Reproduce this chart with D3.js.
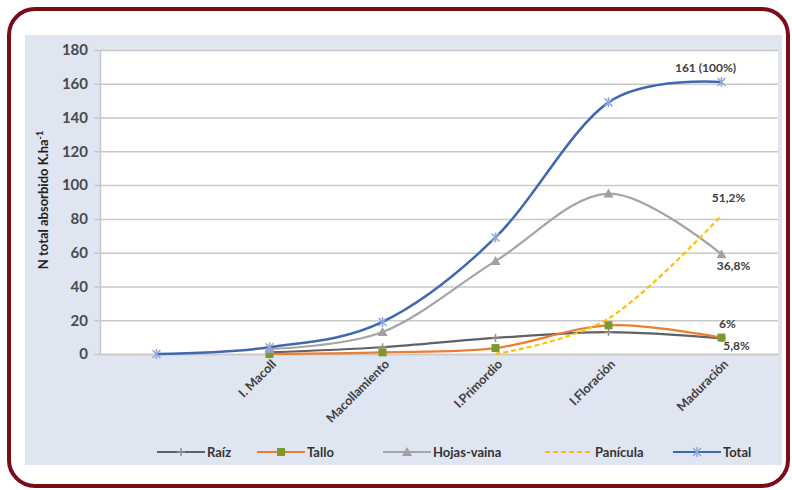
<!DOCTYPE html>
<html>
<head>
<meta charset="utf-8">
<script src="https://cdn.jsdelivr.net/npm/d3@7"></script>
<style>
  body { margin: 0; background: #fff; }
  text { font-family: Lato, "Open Sans", sans-serif; }
</style>
</head>
<body>
<div id="chart"></div>
<script>
// N absorbed by plant part across growth stages
const categories = ['', 'I. Macoll', 'Macollamiento', 'I.Primordio', 'I.Floración', 'Maduración'];
const raiz = [null, 1, 4, 9.5, 13, 9.3];
const tallo = [null, 0, 1, 3.5, 17, 9.7];
const hojas = [null, 3, 13, 55, 95, 59];
const panicula = [null, null, null, 0, 21, 82];
const total = [0, 4, 19, 69, 149, 161];
const yTicks = [0, 20, 40, 60, 80, 100, 120, 140, 160, 180];

const W = 792, H = 490;
const margin = {top: 50, right: 14, bottom: 136, left: 100};
const width = W - margin.left - margin.right;
const height = H - margin.top - margin.bottom;

const svg = d3.select('#chart').append('svg')
    .attr('width', W)
    .attr('height', H);

// Chart background + frame
svg.append('rect')
    .attr('x', 25).attr('y', 35)
    .attr('width', 757).attr('height', 430)
    .attr('fill', '#dfe5f1');

svg.append('rect')
    .attr('x', 9).attr('y', 9)
    .attr('width', 779).attr('height', 477)
    .attr('rx', 26).attr('ry', 26)
    .attr('fill', 'none')
    .attr('stroke', '#7a0c18')
    .attr('stroke-width', 4);

const g = svg.append('g')
    .attr('transform', `translate(${margin.left},${margin.top})`);

g.append('rect')
    .attr('width', width).attr('height', height)
    .attr('fill', '#ffffff');

const x = d3.scalePoint()
    .domain(categories)
    .range([0, width])
    .padding(0.5);

const y = d3.scaleLinear()
    .domain([0, 180])
    .range([height, 0]);

// Grid lines
g.append('g')
    .call(d3.axisLeft(y).tickValues(yTicks).tickSize(-width - 6).tickFormat(''))
    .call(a => a.select('.domain').remove())
    .call(a => a.selectAll('line')
        .attr('stroke', '#c9c9c9')
        .attr('stroke-width', 1.5)
        .attr('transform', 'translate(-6,0)'));

// Y axis
const yAxis = g.append('g')
    .call(d3.axisLeft(y).tickValues(yTicks).tickSize(0).tickPadding(12));
yAxis.select('.domain').attr('stroke', '#c9c9c9').attr('stroke-width', 1.5);
yAxis.selectAll('text')
    .attr('fill', '#4a4a4a')
    .style('font-size', '15px')
    .style('font-weight', 'bold');

// X axis
const xAxis = g.append('g')
    .attr('transform', `translate(0,${height})`)
    .call(d3.axisBottom(x).tickSize(0).tickPadding(0));
xAxis.select('.domain').attr('stroke', '#c9c9c9').attr('stroke-width', 1.5);
xAxis.selectAll('text')
    .attr('fill', '#404040')
    .style('font-size', '12.5px')
    .style('font-weight', 'bold')
    .attr('text-anchor', 'end')
    .attr('dy', null)
    .attr('transform', 'translate(7,11) rotate(-45)');

// Y axis title
const yTitle = svg.append('text')
    .attr('transform', 'translate(48,200) rotate(-90)')
    .attr('text-anchor', 'middle')
    .attr('fill', '#222')
    .style('font-size', '13px')
    .style('font-weight', 'bold');
yTitle.append('tspan').text('N total absorbido K.ha');
yTitle.append('tspan').attr('dy', -5).style('font-size', '9px').text('-1');

// Lines
const line = d3.line()
    .defined(d => d.v !== null)
    .x(d => x(d.c))
    .y(d => y(d.v))
    .curve(d3.curveCardinal.tension(0));

const toPts = arr => arr.map((v, i) => ({c: categories[i], v: v}));

const series = [
  {name: 'Raíz', values: raiz, color: '#5f6166', marker: 'dash', mcolor: '#8c8f99', dash: null},
  {name: 'Tallo', values: tallo, color: '#ed7d31', marker: 'square', mcolor: '#7a9a2c', dash: null},
  {name: 'Hojas-vaina', values: hojas, color: '#a5a5a5', marker: 'triangle', mcolor: '#a0a0a0', dash: null},
  {name: 'Panícula', values: panicula, color: '#ffc000', marker: null, mcolor: null, dash: '5,3'},
  {name: 'Total', values: total, color: '#4068b0', marker: 'star', mcolor: '#8fa9d8', dash: null}
];

function drawMarker(sel, type, color, cx, cy) {
  if (type === 'square') {
    sel.append('rect').attr('x', cx - 4).attr('y', cy - 4)
      .attr('width', 8).attr('height', 8).attr('fill', color);
  } else if (type === 'triangle') {
    sel.append('path').attr('d', `M${cx},${cy - 5}L${cx + 5},${cy + 4}L${cx - 5},${cy + 4}Z`)
      .attr('fill', color);
  } else if (type === 'star') {
    sel.append('path').attr('d', `M${cx - 4},${cy - 4}L${cx + 4},${cy + 4}M${cx - 4},${cy + 4}L${cx + 4},${cy - 4}M${cx},${cy - 5}L${cx},${cy + 5}`)
      .attr('stroke', color).attr('stroke-width', 1.5);
  } else if (type === 'dash') {
    sel.append('path').attr('d', `M${cx},${cy - 4}L${cx},${cy + 4}M${cx - 4},${cy}L${cx + 4},${cy}`)
      .attr('stroke', color).attr('stroke-width', 1.5);
  }
}

series.forEach(s => {
  g.append('path')
    .datum(toPts(s.values))
    .attr('d', line)
    .attr('fill', 'none')
    .attr('stroke', s.color)
    .attr('stroke-width', s.name === 'Total' ? 2.5 : 2.2)
    .attr('stroke-dasharray', s.dash);
});

series.forEach(s => {
  if (!s.marker) return;
  const mg = g.append('g');
  toPts(s.values).forEach(d => {
    if (d.v === null) return;
    drawMarker(mg, s.marker, s.mcolor, x(d.c), y(d.v));
  });
});

// Annotations
const notes = [
  {c: 'Maduración', v: total[5], text: '161 (100%)', dx: -16, dy: -10},
  {c: 'Maduración', v: panicula[5], text: '51,2%', dx: 7, dy: -14},
  {c: 'Maduración', v: hojas[5], text: '36,8%', dx: 12, dy: 16},
  {c: 'Maduración', v: tallo[5], text: '6%', dx: 6, dy: -10},
  {c: 'Maduración', v: raiz[5], text: '5,8%', dx: 15, dy: 12}
];
notes.forEach(n => {
  g.append('text')
    .attr('x', x(n.c) + n.dx)
    .attr('y', y(n.v) + n.dy)
    .attr('text-anchor', 'middle')
    .attr('fill', '#404040')
    .style('font-size', '12px')
    .style('font-weight', 'bold')
    .text(n.text);
});

// Legend
const legendX = [157, 257, 383, 545, 673];
const legend = svg.append('g').attr('transform', 'translate(0,452)');
series.forEach((s, i) => {
  const lx = legendX[i];
  legend.append('line')
    .attr('x1', lx).attr('x2', lx + 48)
    .attr('stroke', s.color)
    .attr('stroke-width', 2.2)
    .attr('stroke-dasharray', s.dash);
  if (s.marker) drawMarker(legend, s.marker, s.mcolor, lx + 24, 0);
  legend.append('text')
    .attr('x', lx + 50)
    .attr('y', 5)
    .attr('fill', '#333')
    .style('font-size', '13px')
    .style('font-weight', 'bold')
    .text(s.name);
});
</script>
</body>
</html>
